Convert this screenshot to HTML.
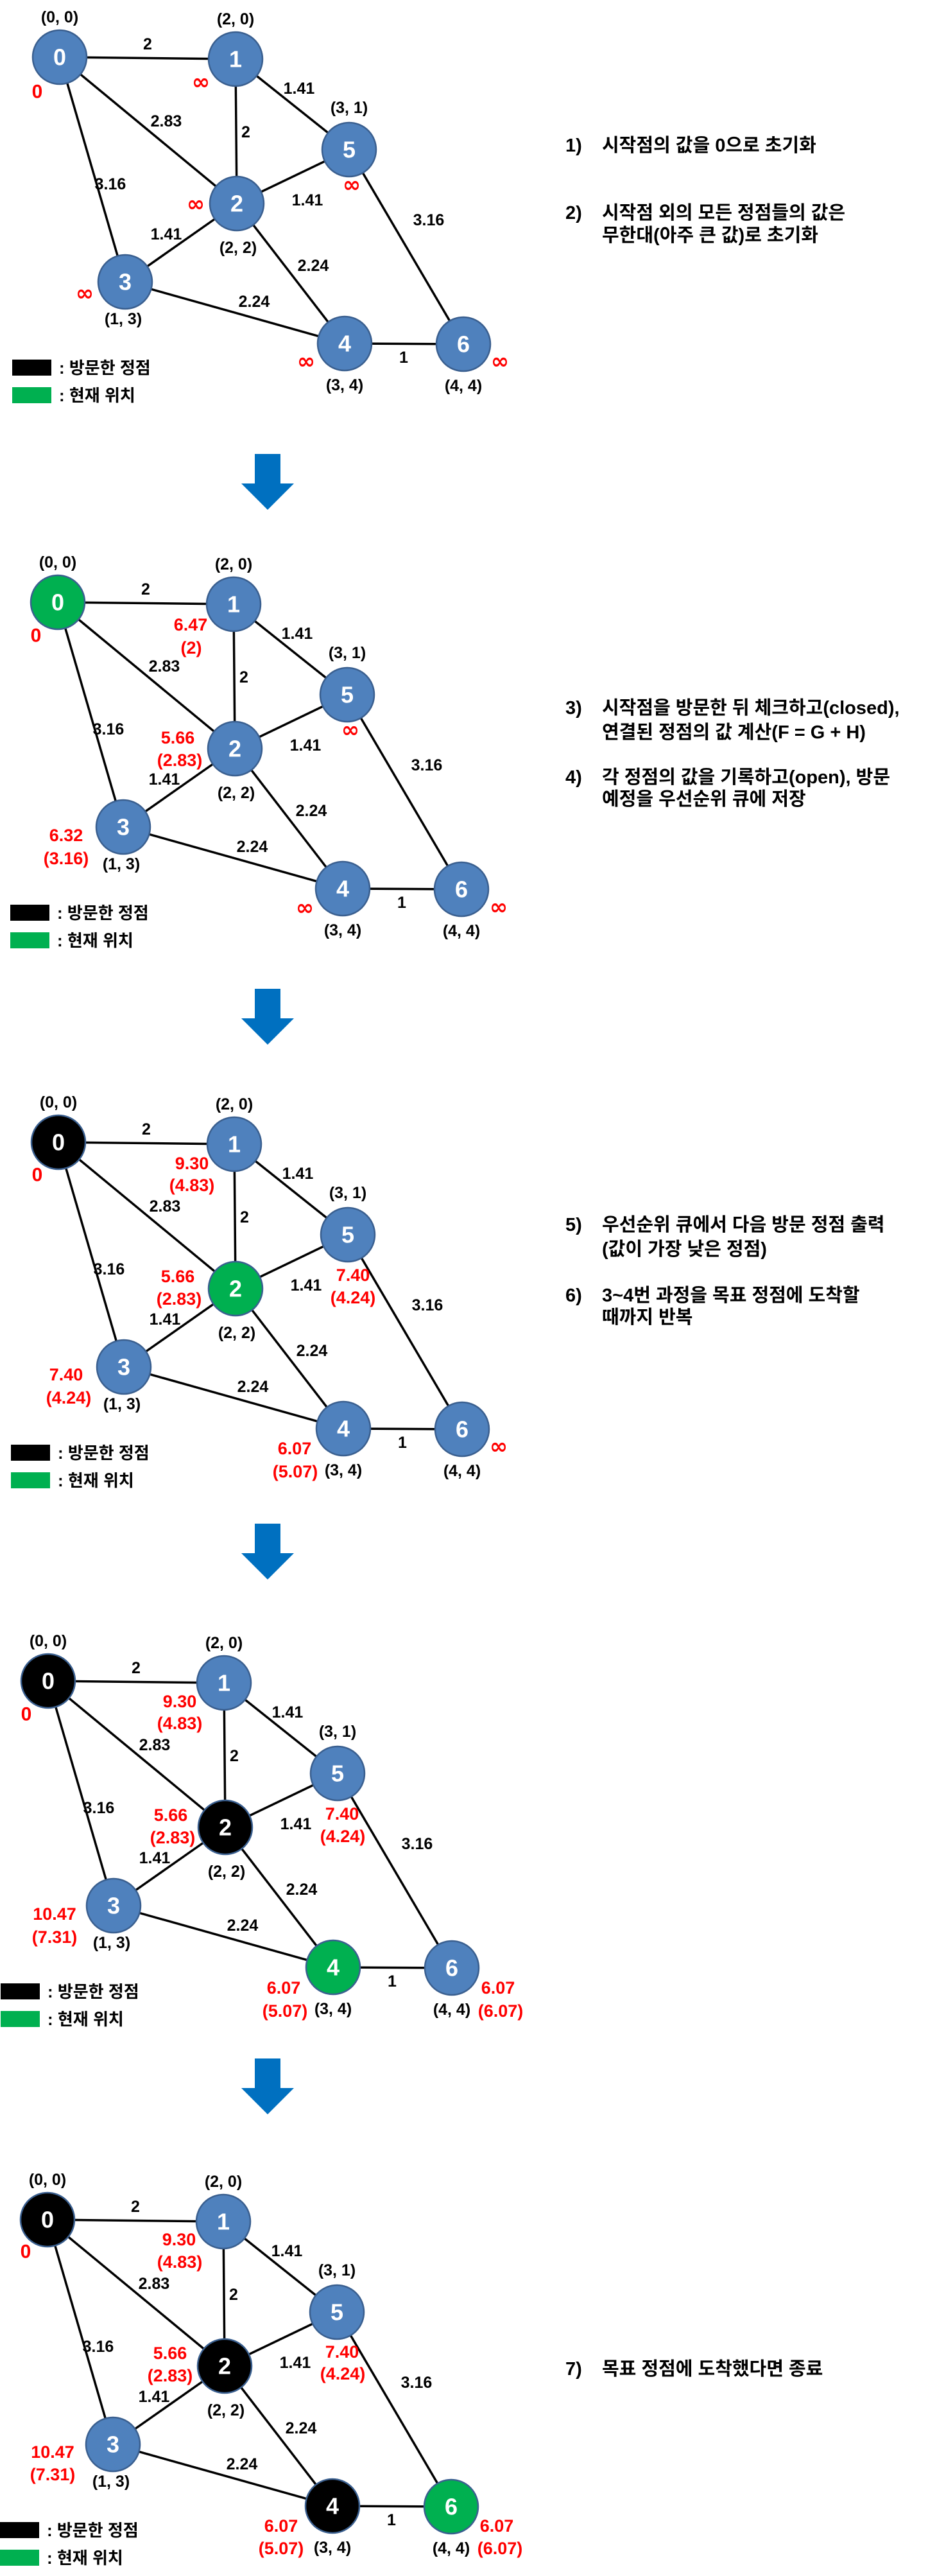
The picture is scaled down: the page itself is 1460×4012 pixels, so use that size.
<!DOCTYPE html>
<html><head><meta charset="utf-8"><style>
html,body{margin:0;padding:0;background:#fff;}
svg{display:block}
.e{stroke:#000;stroke-width:3.5;fill:none}
.n{stroke:#3a5f8f;stroke-width:2.5}
.nt{font-family:"Liberation Sans",sans-serif;font-weight:bold;font-size:36px;fill:#fff;text-anchor:middle;dominant-baseline:central}
.w{font-family:"Liberation Sans",sans-serif;font-weight:bold;font-size:25px;fill:#000;text-anchor:middle;dominant-baseline:central}
.c{font-family:"Liberation Sans",sans-serif;font-weight:bold;font-size:25px;fill:#000;text-anchor:middle;dominant-baseline:central}
.r{font-family:"Liberation Sans",sans-serif;font-weight:bold;font-size:27px;fill:#f00;text-anchor:middle;dominant-baseline:central}
.inf{font-family:"DejaVu Sans",sans-serif;font-weight:bold;font-size:34px;fill:#f00;text-anchor:middle;dominant-baseline:central}
.lg{font-family:"Liberation Sans","Noto Sans CJK KR",sans-serif;font-weight:bold;font-size:26px;fill:#000;dominant-baseline:central}
.t{font-family:"Liberation Sans","Noto Sans CJK KR",sans-serif;font-weight:bold;font-size:29px;fill:#000;dominant-baseline:central}
</style></head><body>
<svg width="1460" height="4012" viewBox="0 0 1460 4012" xmlns="http://www.w3.org/2000/svg">
<defs>
<g id="edges">
<line class="e" x1="93" y1="89" x2="367" y2="92"/>
<line class="e" x1="93" y1="89" x2="369" y2="317"/>
<line class="e" x1="93" y1="89" x2="195" y2="439"/>
<line class="e" x1="367" y1="92" x2="369" y2="317"/>
<line class="e" x1="367" y1="92" x2="544" y2="233"/>
<line class="e" x1="369" y1="317" x2="544" y2="233"/>
<line class="e" x1="369" y1="317" x2="195" y2="439"/>
<line class="e" x1="369" y1="317" x2="537" y2="535"/>
<line class="e" x1="195" y1="439" x2="537" y2="535"/>
<line class="e" x1="537" y1="535" x2="722" y2="536"/>
<line class="e" x1="544" y1="233" x2="722" y2="536"/>
</g>
<g id="labels">
<text class="w" x="230" y="69">2</text>
<text class="w" x="466" y="138">1.41</text>
<text class="w" x="259" y="189">2.83</text>
<text class="w" x="383" y="206">2</text>
<text class="w" x="172" y="287">3.16</text>
<text class="w" x="479" y="312">1.41</text>
<text class="w" x="668" y="343">3.16</text>
<text class="w" x="259" y="365">1.41</text>
<text class="w" x="488" y="414">2.24</text>
<text class="w" x="396" y="470">2.24</text>
<text class="w" x="629" y="557">1</text>
<text class="c" x="93" y="27">(0, 0)</text>
<text class="c" x="367" y="30">(2, 0)</text>
<text class="c" x="544" y="168">(3, 1)</text>
<text class="c" x="371" y="386">(2, 2)</text>
<text class="c" x="192" y="497">(1, 3)</text>
<text class="c" x="537" y="600">(3, 4)</text>
<text class="c" x="722" y="601">(4, 4)</text>
<rect x="19" y="560" width="61" height="25" fill="#000"/>
<text class="lg" x="92" y="573">: 방문한 정점</text>
<rect x="19" y="603" width="61" height="25" fill="#00b050"/>
<text class="lg" x="92" y="616">: 현재 위치</text>
</g>
<g id="arrow"><polygon points="397,0 437,0 437,46 458,46 417,87 376,46 397,46" fill="#0070c0"/></g>
</defs>

<!-- Panel 1 -->
<g>
<use href="#edges"/><use href="#labels"/>
<circle class="n" cx="93" cy="89" r="42" fill="#4f81bd"/><text class="nt" x="93" y="89">0</text>
<circle class="n" cx="367" cy="92" r="42" fill="#4f81bd"/><text class="nt" x="367" y="92">1</text>
<circle class="n" cx="369" cy="317" r="42" fill="#4f81bd"/><text class="nt" x="369" y="317">2</text>
<circle class="n" cx="195" cy="439" r="42" fill="#4f81bd"/><text class="nt" x="195" y="439">3</text>
<circle class="n" cx="537" cy="535" r="42" fill="#4f81bd"/><text class="nt" x="537" y="535">4</text>
<circle class="n" cx="544" cy="233" r="42" fill="#4f81bd"/><text class="nt" x="544" y="233">5</text>
<circle class="n" cx="722" cy="536" r="42" fill="#4f81bd"/><text class="nt" x="722" y="536">6</text>
<text class="r" x="58" y="143" style="font-size:30px">0</text>
<text class="inf" x="313" y="128">∞</text>
<text class="inf" x="548" y="288">∞</text>
<text class="inf" x="305" y="318">∞</text>
<text class="inf" x="132" y="457">∞</text>
<text class="inf" x="477" y="563">∞</text>
<text class="inf" x="779" y="563">∞</text>
</g>
<text class="t" x="881" y="227">1)</text><text class="t" x="938" y="227">시작점의 값을 0으로 초기화</text>
<text class="t" x="881" y="332">2)</text><text class="t" x="938" y="332">시작점 외의 모든 정점들의 값은</text>
<text class="t" x="938" y="367">무한대(아주 큰 값)로 초기화</text>
<use href="#arrow" y="707"/>

<!-- Panel 2 -->
<g transform="translate(-3,849)">
<use href="#edges"/><use href="#labels"/>
<circle class="n" cx="93" cy="89" r="42" fill="#00b050" stroke="#00b050"/><text class="nt" x="93" y="89">0</text>
<circle class="n" cx="367" cy="92" r="42" fill="#4f81bd"/><text class="nt" x="367" y="92">1</text>
<circle class="n" cx="369" cy="317" r="42" fill="#4f81bd"/><text class="nt" x="369" y="317">2</text>
<circle class="n" cx="195" cy="439" r="42" fill="#4f81bd"/><text class="nt" x="195" y="439">3</text>
<circle class="n" cx="537" cy="535" r="42" fill="#4f81bd"/><text class="nt" x="537" y="535">4</text>
<circle class="n" cx="544" cy="233" r="42" fill="#4f81bd"/><text class="nt" x="544" y="233">5</text>
<circle class="n" cx="722" cy="536" r="42" fill="#4f81bd"/><text class="nt" x="722" y="536">6</text>
</g>
<text class="r" x="56" y="990" style="font-size:30px">0</text>
<text class="r" x="297" y="973">6.47</text><text class="r" x="298" y="1009">(2)</text>
<text class="r" x="277" y="1149">5.66</text><text class="r" x="280" y="1184">(2.83)</text>
<text class="r" x="103" y="1301">6.32</text><text class="r" x="103" y="1337">(3.16)</text>
<text class="inf" x="546" y="1137">∞</text>
<text class="inf" x="475" y="1414">∞</text>
<text class="inf" x="777" y="1413">∞</text>
<text class="t" x="881" y="1103">3)</text><text class="t" x="938" y="1103">시작점을 방문한 뒤 체크하고(closed),</text>
<text class="t" x="938" y="1141">연결된 정점의 값 계산(F = G + H)</text>
<text class="t" x="881" y="1211">4)</text><text class="t" x="938" y="1211">각 정점의 값을 기록하고(open), 방문</text>
<text class="t" x="938" y="1245">예정을 우선순위 큐에 저장</text>
<use href="#arrow" y="1540"/>

<!-- Panel 3 -->
<g transform="translate(-2,1690)">
<use href="#edges"/><use href="#labels"/>
<circle class="n" cx="93" cy="89" r="42" fill="#000" stroke="#000"/><text class="nt" x="93" y="89">0</text>
<circle class="n" cx="367" cy="92" r="42" fill="#4f81bd"/><text class="nt" x="367" y="92">1</text>
<circle class="n" cx="369" cy="317" r="42" fill="#00b050" stroke="#00b050"/><text class="nt" x="369" y="317">2</text>
<circle class="n" cx="195" cy="439" r="42" fill="#4f81bd"/><text class="nt" x="195" y="439">3</text>
<circle class="n" cx="537" cy="535" r="42" fill="#4f81bd"/><text class="nt" x="537" y="535">4</text>
<circle class="n" cx="544" cy="233" r="42" fill="#4f81bd"/><text class="nt" x="544" y="233">5</text>
<circle class="n" cx="722" cy="536" r="42" fill="#4f81bd"/><text class="nt" x="722" y="536">6</text>
</g>
<text class="r" x="58" y="1830" style="font-size:30px">0</text>
<text class="r" x="299" y="1812">9.30</text><text class="r" x="299" y="1846">(4.83)</text>
<text class="r" x="277" y="1988">5.66</text><text class="r" x="279" y="2023">(2.83)</text>
<text class="r" x="550" y="1986">7.40</text><text class="r" x="550" y="2021">(4.24)</text>
<text class="r" x="103" y="2141">7.40</text><text class="r" x="107" y="2177">(4.24)</text>
<text class="r" x="459" y="2256">6.07</text><text class="r" x="460" y="2292">(5.07)</text>
<text class="inf" x="777" y="2253">∞</text>
<text class="t" x="881" y="1908">5)</text><text class="t" x="938" y="1908">우선순위 큐에서 다음 방문 정점 출력</text>
<text class="t" x="938" y="1946">(값이 가장 낮은 정점)</text>
<text class="t" x="881" y="2018">6)</text><text class="t" x="938" y="2018">3~4번 과정을 목표 정점에 도착할</text>
<text class="t" x="938" y="2052">때까지 반복</text>
<use href="#arrow" y="2373"/>

<!-- Panel 4 -->
<g transform="translate(-18,2529)">
<use href="#edges"/><use href="#labels"/>
<circle class="n" cx="93" cy="89" r="42" fill="#000" stroke="#000"/><text class="nt" x="93" y="89">0</text>
<circle class="n" cx="367" cy="92" r="42" fill="#4f81bd"/><text class="nt" x="367" y="92">1</text>
<circle class="n" cx="369" cy="317" r="42" fill="#000" stroke="#000"/><text class="nt" x="369" y="317">2</text>
<circle class="n" cx="195" cy="439" r="42" fill="#4f81bd"/><text class="nt" x="195" y="439">3</text>
<circle class="n" cx="537" cy="535" r="42" fill="#00b050" stroke="#00b050"/><text class="nt" x="537" y="535">4</text>
<circle class="n" cx="544" cy="233" r="42" fill="#4f81bd"/><text class="nt" x="544" y="233">5</text>
<circle class="n" cx="722" cy="536" r="42" fill="#4f81bd"/><text class="nt" x="722" y="536">6</text>
</g>
<text class="r" x="41" y="2670" style="font-size:30px">0</text>
<text class="r" x="280" y="2650">9.30</text><text class="r" x="280" y="2684">(4.83)</text>
<text class="r" x="266" y="2827">5.66</text><text class="r" x="269" y="2862">(2.83)</text>
<text class="r" x="533" y="2825">7.40</text><text class="r" x="534" y="2860">(4.24)</text>
<text class="r" x="85" y="2981">10.47</text><text class="r" x="85" y="3017">(7.31)</text>
<text class="r" x="442" y="3096">6.07</text><text class="r" x="444" y="3132">(5.07)</text>
<text class="r" x="776" y="3096">6.07</text><text class="r" x="780" y="3132">(6.07)</text>
<use href="#arrow" y="3206"/>

<!-- Panel 5 -->
<g transform="translate(-19,3368)">
<use href="#edges"/><use href="#labels"/>
<circle class="n" cx="93" cy="89" r="42" fill="#000" stroke="#000"/><text class="nt" x="93" y="89">0</text>
<circle class="n" cx="367" cy="92" r="42" fill="#4f81bd"/><text class="nt" x="367" y="92">1</text>
<circle class="n" cx="369" cy="317" r="42" fill="#000" stroke="#000"/><text class="nt" x="369" y="317">2</text>
<circle class="n" cx="195" cy="439" r="42" fill="#4f81bd"/><text class="nt" x="195" y="439">3</text>
<circle class="n" cx="537" cy="535" r="42" fill="#000" stroke="#000"/><text class="nt" x="537" y="535">4</text>
<circle class="n" cx="544" cy="233" r="42" fill="#4f81bd"/><text class="nt" x="544" y="233">5</text>
<circle class="n" cx="722" cy="536" r="42" fill="#00b050" stroke="#00b050"/><text class="nt" x="722" y="536">6</text>
</g>
<text class="r" x="40" y="3507" style="font-size:30px">0</text>
<text class="r" x="279" y="3488">9.30</text><text class="r" x="280" y="3523">(4.83)</text>
<text class="r" x="265" y="3665">5.66</text><text class="r" x="265" y="3700">(2.83)</text>
<text class="r" x="533" y="3663">7.40</text><text class="r" x="534" y="3697">(4.24)</text>
<text class="r" x="82" y="3819">10.47</text><text class="r" x="82" y="3854">(7.31)</text>
<text class="r" x="438" y="3934">6.07</text><text class="r" x="438" y="3969">(5.07)</text>
<text class="r" x="774" y="3934">6.07</text><text class="r" x="779" y="3969">(6.07)</text>
<text class="t" x="881" y="3690">7)</text><text class="t" x="938" y="3690">목표 정점에 도착했다면 종료</text>
</svg>
</body></html>
